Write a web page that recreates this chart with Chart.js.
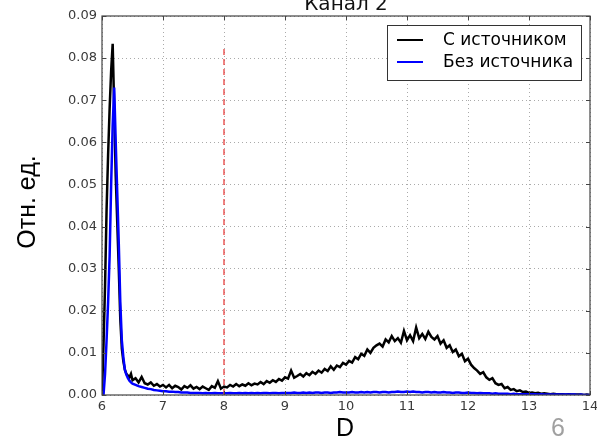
<!DOCTYPE html>
<html>
<head>
<meta charset="utf-8">
<script src="https://cdn.jsdelivr.net/npm/chart.js@4/dist/chart.umd.min.js"></script>
<style>
  html, body { margin: 0; padding: 0; background: #fff; }
  #wrap { width: 597px; height: 440px; position: relative; }
</style>
</head>
<body>
<div id="wrap"><canvas id="chan2_chart" width="597" height="440"></canvas></div>
<script>
// peak region, fine bins
var peakD = [6.000, 6.025, 6.050, 6.075, 6.100, 6.125, 6.150, 6.175, 6.200, 6.225,
             6.250, 6.275, 6.300, 6.325, 6.350, 6.375, 6.400, 6.425, 6.450, 6.475, 6.500];
var peakWith = [0.0000, 0.0120, 0.0260, 0.0440, 0.0570, 0.0680, 0.0770, 0.0834, 0.0680, 0.0520,
                0.0410, 0.0300, 0.0180, 0.0110, 0.0080, 0.0060, 0.0050, 0.0046, 0.0042, 0.0050, 0.0035];
var peakWithout = [0.0000, 0.0000, 0.0050, 0.0130, 0.0220, 0.0330, 0.0500, 0.0640, 0.0730, 0.0600,
                   0.0480, 0.0360, 0.0220, 0.0130, 0.0090, 0.0060, 0.0048, 0.0040, 0.0034, 0.0030, 0.0027];

// tail, bins of 0.05 from 6.55 to 14.00
var tailStart = 6.55;
var tailStep = 0.05;
var tailWith = [
  0.0040, 0.0030, 0.0043, 0.0028, 0.0025, 0.0030, 0.0022, 0.0026, 0.0020, 0.0024,
  0.0018, 0.0024, 0.0016, 0.0022, 0.0019, 0.0013, 0.0021, 0.0017, 0.0023, 0.0015,
  0.0019, 0.0014, 0.0020, 0.0016, 0.0012, 0.0021, 0.0017, 0.0033, 0.0015, 0.0020,
  0.0018, 0.0024, 0.0020, 0.0026, 0.0021, 0.0025, 0.0022, 0.0028, 0.0023, 0.0027,
  0.0025, 0.0031, 0.0026, 0.0033, 0.0029, 0.0035, 0.0031, 0.0038, 0.0034, 0.0042,
  0.0039, 0.0058, 0.0041, 0.0045, 0.0050, 0.0044, 0.0052, 0.0047, 0.0055, 0.0050,
  0.0058, 0.0053, 0.0062, 0.0057, 0.0068, 0.0060, 0.0070, 0.0066, 0.0076, 0.0072,
  0.0081, 0.0077, 0.0090, 0.0085, 0.0098, 0.0093, 0.0108, 0.0100, 0.0112, 0.0118,
  0.0122, 0.0115, 0.0132, 0.0125, 0.0140, 0.0128, 0.0135, 0.0124, 0.0152, 0.0130,
  0.0142, 0.0128, 0.0160, 0.0135, 0.0145, 0.0133, 0.0150, 0.0138, 0.0132, 0.0140,
  0.0122, 0.0130, 0.0112, 0.0118, 0.0102, 0.0108, 0.0092, 0.0098, 0.0080, 0.0086,
  0.0072, 0.0064, 0.0058, 0.0050, 0.0054, 0.0042, 0.0036, 0.0040, 0.0028, 0.0024,
  0.0026, 0.0016, 0.0019, 0.0012, 0.0014, 0.0009, 0.0011, 0.0007, 0.0008, 0.0005,
  0.0006, 0.0004, 0.0005, 0.0003, 0.0004, 0.0003, 0.0002, 0.0003, 0.0002, 0.0002,
  0.0002, 0.0001, 0.0002, 0.0001, 0.0001, 0.0001, 0.0001, 0.0000, 0.0001, 0.0000
];
var tailWithout = [
  0.0024, 0.0021, 0.0019, 0.0017, 0.0015, 0.0014, 0.0012, 0.0011, 0.0010, 0.0009,
  0.0009, 0.0008, 0.0008, 0.0007, 0.0007, 0.0006, 0.0006, 0.0006, 0.0005, 0.0005,
  0.0005, 0.0005, 0.0004, 0.0005, 0.0004, 0.0004, 0.0005, 0.0004, 0.0004, 0.0004,
  0.0004, 0.0005, 0.0004, 0.0004, 0.0005, 0.0004, 0.0005, 0.0004, 0.0005, 0.0004,
  0.0005, 0.0004, 0.0005, 0.0005, 0.0004, 0.0005, 0.0005, 0.0004, 0.0005, 0.0005,
  0.0005, 0.0005, 0.0006, 0.0005, 0.0005, 0.0006, 0.0005, 0.0006, 0.0005, 0.0006,
  0.0006, 0.0005, 0.0006, 0.0006, 0.0005, 0.0006, 0.0006, 0.0007, 0.0006, 0.0006,
  0.0006, 0.0007, 0.0006, 0.0006, 0.0007, 0.0006, 0.0007, 0.0006, 0.0007, 0.0007,
  0.0006, 0.0007, 0.0007, 0.0006, 0.0007, 0.0007, 0.0008, 0.0007, 0.0007, 0.0008,
  0.0007, 0.0008, 0.0007, 0.0007, 0.0006, 0.0007, 0.0007, 0.0006, 0.0007, 0.0006,
  0.0006, 0.0007, 0.0006, 0.0006, 0.0005, 0.0006, 0.0006, 0.0005, 0.0005, 0.0006,
  0.0005, 0.0005, 0.0004, 0.0005, 0.0004, 0.0004, 0.0004, 0.0003, 0.0004, 0.0003,
  0.0003, 0.0003, 0.0003, 0.0002, 0.0003, 0.0002, 0.0002, 0.0002, 0.0002, 0.0002,
  0.0002, 0.0002, 0.0001, 0.0002, 0.0001, 0.0001, 0.0001, 0.0001, 0.0001, 0.0001,
  0.0001, 0.0001, 0.0001, 0.0001, 0.0001, 0.0000, 0.0001, 0.0000, 0.0000, 0.0000
];

// threshold line
var cutD = 8;
var cutTop = 0.0826;

var seriesNames = ["С источником", "Без источника"];
var seriesColors = ["#000000", "#0000ff"];
var chartTitle = "Канал 2";
var xTitle = "D";
var yTitle = "Отн. ед.";
var pageNo = "6";

function buildPoints(peakVals, tailVals) {
    var pts = [];
    for (var i = 0; i < peakD.length; i++) pts.push({x: peakD[i], y: peakVals[i]});
    for (var j = 0; j < tailVals.length; j++) pts.push({x: +(tailStart + j * tailStep).toFixed(2), y: tailVals[j]});
    return pts;
}

var mplFont = "'DejaVu Sans', sans-serif";
var slideFont = "'Liberation Sans', Arial, sans-serif";

var decorPlugin = {
    id: 'decor',
    afterDatasetsDraw: function (chart) {
        var ctx = chart.ctx, a = chart.chartArea;
        var xs = chart.scales.x, ys = chart.scales.y;
        ctx.save();
        // frame
        ctx.strokeStyle = '#444';
        ctx.lineWidth = 1.2;
        ctx.strokeRect(a.left, a.top, a.right - a.left, a.bottom - a.top);
        // inward ticks
        ctx.lineWidth = 1;
        ctx.beginPath();
        xs.ticks.forEach(function (t) {
            var px = Math.round(xs.getPixelForValue(t.value)) + 0.5;
            ctx.moveTo(px, a.bottom); ctx.lineTo(px, a.bottom - 4);
            ctx.moveTo(px, a.top); ctx.lineTo(px, a.top + 4);
        });
        ys.ticks.forEach(function (t) {
            var py = Math.round(ys.getPixelForValue(t.value)) + 0.5;
            ctx.moveTo(a.left, py); ctx.lineTo(a.left + 4, py);
            ctx.moveTo(a.right, py); ctx.lineTo(a.right - 4, py);
        });
        ctx.stroke();

        // legend
        var lx = 387.5, ly = 25.5, lw = 194, lh = 55;
        ctx.fillStyle = '#fff';
        ctx.fillRect(lx, ly, lw, lh);
        ctx.strokeStyle = '#333';
        ctx.lineWidth = 1;
        ctx.strokeRect(lx, ly, lw, lh);
        ctx.font = "17px " + mplFont;
        ctx.textBaseline = 'middle';
        ctx.textAlign = 'left';
        for (var i = 0; i < seriesNames.length; i++) {
            var yy = 40 + i * 22;
            ctx.strokeStyle = seriesColors[i];
            ctx.lineWidth = 2;
            ctx.beginPath();
            ctx.moveTo(397, yy); ctx.lineTo(423, yy);
            ctx.stroke();
            ctx.fillStyle = '#000';
            ctx.fillText(seriesNames[i], 443, yy + 1);
        }

        // title (partly off the top edge, as in the slide)
        ctx.fillStyle = '#111';
        ctx.font = "20px " + mplFont;
        ctx.textAlign = 'center';
        ctx.textBaseline = 'alphabetic';
        ctx.fillText(chartTitle, (a.left + a.right) / 2, 10);

        // slide texts
        ctx.font = "25px " + slideFont;
        ctx.fillStyle = '#000';
        ctx.fillText(xTitle, 345, 436);
        ctx.fillStyle = '#a0a0a0';
        ctx.fillText(pageNo, 558, 436);

        ctx.save();
        ctx.translate(35, 202);
        ctx.rotate(-Math.PI / 2);
        ctx.fillStyle = '#000';
        ctx.font = "25px " + slideFont;
        ctx.fillText(yTitle, 0, 0);
        ctx.restore();

        ctx.restore();
    }
};

var ctx = document.getElementById("chan2_chart").getContext('2d');
var chan2Chart = new Chart(ctx, {
    type: 'line',
    data: {
        datasets: [
            {
                label: seriesNames[0],
                data: buildPoints(peakWith, tailWith),
                borderColor: seriesColors[0],
                borderWidth: 2.5,
                tension: 0,
                pointRadius: 0,
                order: 1
            },
            {
                label: seriesNames[1],
                data: buildPoints(peakWithout, tailWithout),
                borderColor: seriesColors[1],
                borderWidth: 2.5,
                tension: 0,
                pointRadius: 0,
                order: 0
            },
            {
                label: 'cut',
                data: [{x: cutD, y: 0}, {x: cutD, y: cutTop}],
                borderColor: '#e8413f',
                borderWidth: 1.3,
                borderDash: [6, 4],
                pointRadius: 0,
                order: -1
            }
        ]
    },
    options: {
        responsive: false,
        animation: false,
        events: [],
        layout: {
            padding: { top: 16, right: 7, left: 0, bottom: 0 }
        },
        plugins: {
            legend: { display: false },
            title: { display: false },
            tooltip: { enabled: false }
        },
        scales: {
            x: {
                type: 'linear',
                min: 6,
                max: 14,
                afterFit: function (s) { s.height = 45; s.paddingLeft = 0; s.paddingRight = 0; },
                ticks: {
                    stepSize: 1,
                    padding: 4,
                    color: '#3a3a3a',
                    font: { family: mplFont, size: 13 },
                    maxRotation: 0
                },
                grid: { color: '#aaa', lineWidth: 1, drawTicks: false },
                border: { display: false, dash: [1, 3] }
            },
            y: {
                min: 0,
                max: 0.09,
                afterFit: function (s) { s.width = 102; s.paddingTop = 0; s.paddingBottom = 0; },
                ticks: {
                    stepSize: 0.01,
                    padding: 5,
                    color: '#3a3a3a',
                    font: { family: mplFont, size: 13 },
                    callback: function (v) { return v.toFixed(2); }
                },
                grid: { color: '#aaa', lineWidth: 1, drawTicks: false },
                border: { display: false, dash: [1, 3] }
            }
        }
    },
    plugins: [decorPlugin]
});
</script>
</body>
</html>
